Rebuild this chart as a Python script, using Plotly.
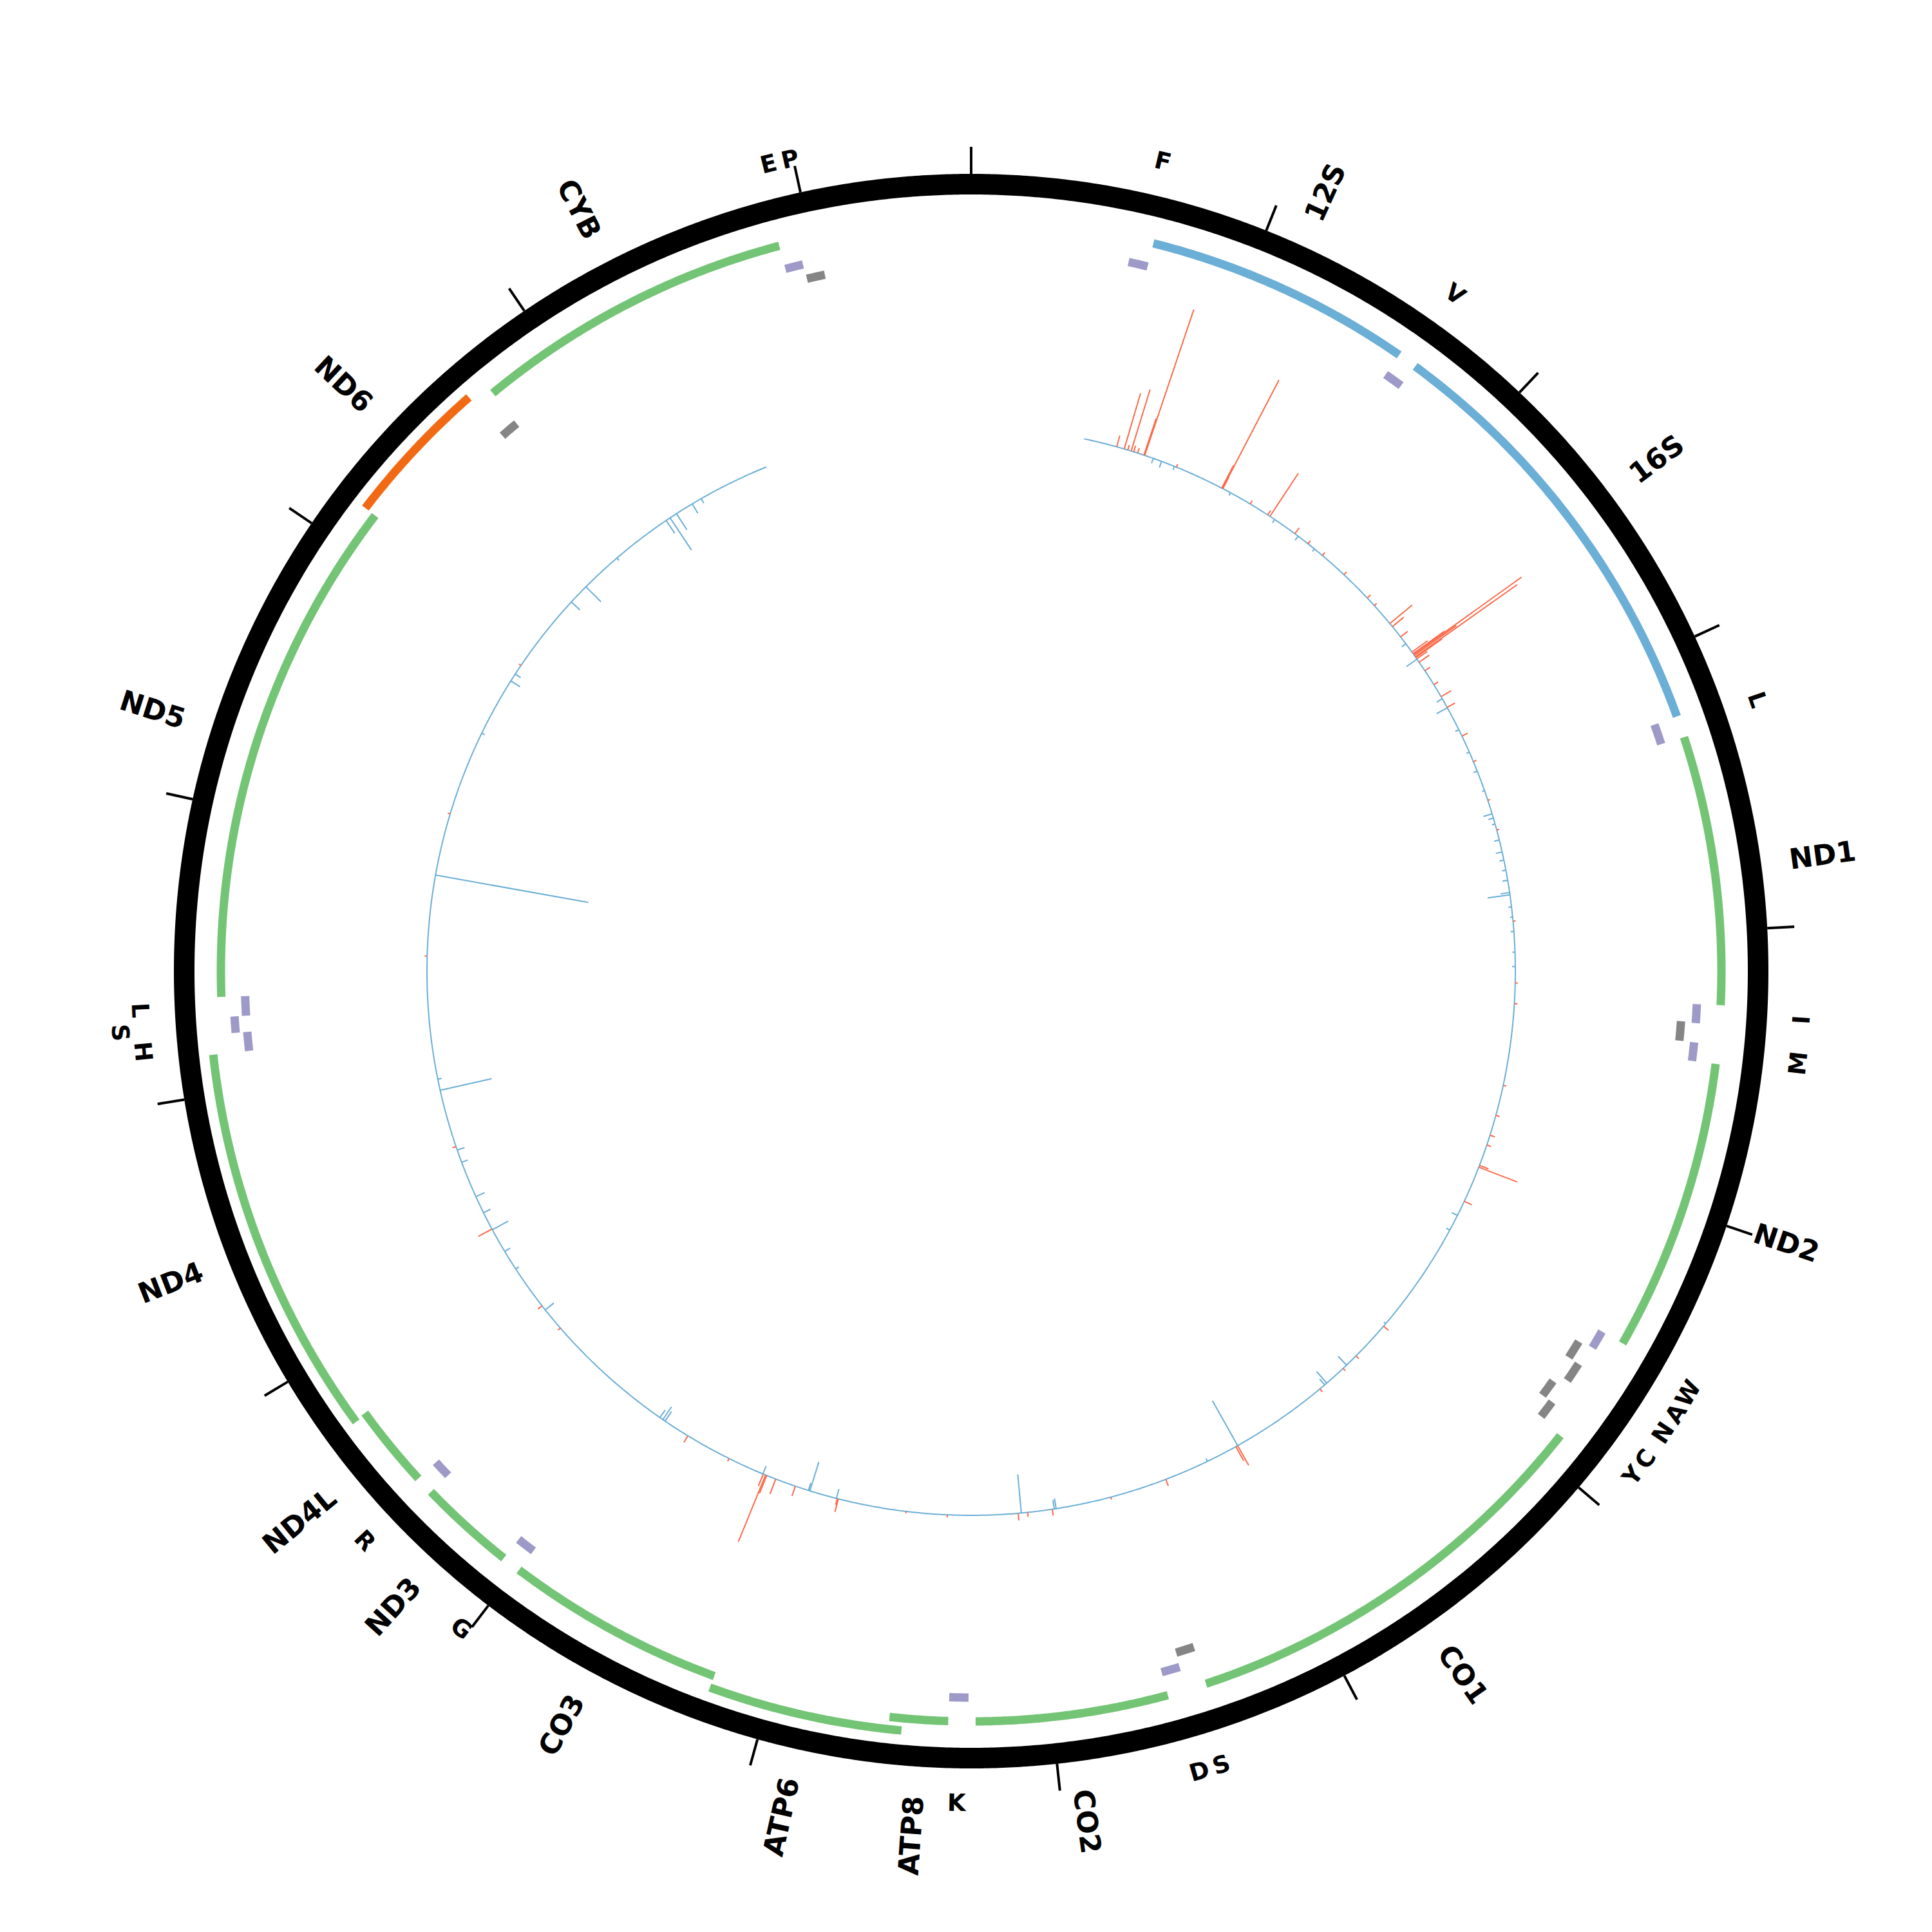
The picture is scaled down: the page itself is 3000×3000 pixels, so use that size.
import numpy as np
import plotly.graph_objects as go

GENOME_LEN = 16569

# ---------------- data ----------------
gene_names = ["12S", "16S", "ND1", "ND2", "CO1", "CO2", "ATP8", "ATP6", "CO3",
              "ND3", "ND4L", "ND4", "ND5", "ND6", "CYB"]
gene_starts = [648, 1671, 3307, 4470, 5904, 7586, 8366, 8527, 9207,
               10059, 10470, 10760, 12337, 14149, 14747]
gene_ends = [1601, 3229, 4262, 5511, 7445, 8269, 8572, 9207, 9990,
             10404, 10766, 12137, 14148, 14673, 15887]
gene_strands = ["+", "+", "+", "+", "+", "+", "+", "+", "+",
                "+", "+", "+", "+", "-", "+"]
gene_types = ["rRNA", "rRNA", "protein", "protein", "protein", "protein", "protein", "protein",
              "protein", "protein", "protein", "protein", "protein", "protein", "protein"]

trna_starts = [577, 1602, 3230, 4263, 4329, 4402, 5512, 5587, 5657, 5761, 5826, 7446, 7518,
               8295, 9991, 10405, 12138, 12207, 12266, 14674, 15888, 15956]
trna_ends = [647, 1670, 3304, 4331, 4400, 4469, 5579, 5655, 5729, 5826, 5891, 7514, 7585,
             8364, 10058, 10469, 12206, 12265, 12336, 14742, 15953, 16023]
trna_strands = ["+", "+", "+", "+", "-", "+", "+", "-", "-", "-", "-", "-", "+",
                "+", "+", "+", "+", "+", "+", "-", "+", "-"]
trna_labels = ["F", "V", "L", "I", "", "M", "W", "A", "N", "C", "Y", "S", "D",
               "K", "G", "R", "H", "S", "L", "", "E", "P"]

tick_positions = [0, 1000, 2000, 3000, 4000, 5000, 6000, 7000, 8000, 9000, 10000,
                  11000, 12000, 13000, 14000, 15000, 16000]

track_start = 552
track_end = 15552

gain_pos = [714, 752, 770, 787, 800, 820, 852, 856, 1020, 1262, 1264, 1266, 1268, 1420, 1520,
            1533, 1680, 1760, 1850, 1990, 2150, 2200, 2315, 2334, 2398, 2490, 2500, 2504,
            2510, 2518, 2522, 2530, 2550, 2600, 2680, 2748, 2808, 2964, 3100, 3300, 3450,
            3900, 4200, 4300, 4700, 4850, 4950, 5000, 5105, 5114, 5294, 6016, 6213, 6300,
            6450, 6935, 6945, 7320, 7600, 7890, 8010, 8056, 8400, 8600, 8935, 8940, 9152,
            9253, 9300, 9306, 9318, 9500, 9728, 10540, 10680, 11125, 11561, 12500, 13200,
            14000]
gain_val = [1.8, 9.0, 0.8, 10.0, 1.0, 0.8, 6.0, 23.9, 0.5, 4.0, 3.0, 19.0, 2.0, 0.6, 0.8,
            8.0, 1.1, 0.6, 0.6, 0.6, 0.7, 0.5, 4.5, 2.3, 1.4, 3.0, 6.0, 20.6,
            8.0, 19.4, 5.0, 2.0, 1.9, 1.0, 0.8, 1.8, 1.4, 1.0, 0.5, 0.4, 0.4,
            0.4, 0.4, 0.5, 0.5, 0.6, 0.8, 0.7, 1.5, 6.4, 1.3, 1.0, 0.6, 0.5,
            0.6, 3.5, 2.5, 1.1, 0.4, 1.0, 0.7, 1.1, 0.4, 0.3, 2.1, 1.0, 1.6,
            2.5, 3.0, 11.2, 2.0, 0.5, 1.2, 0.5, 0.8, 2.4, 0.6, 0.4, 0.4,
            0.4]

loss_pos = [900, 943, 1010, 1310, 1560, 1700, 1800, 2440, 2532, 2760, 2810, 2930, 3050,
            3150, 3250, 3369, 3390, 3420, 3500, 3560, 3600, 3650, 3700, 3760, 3771, 3830,
            3880, 3950, 4050, 4120, 5370, 5450, 6000, 6277, 6407, 6420, 6935, 7100, 7871,
            7880, 8041, 8944, 9078, 9085, 9320, 9860, 9873, 9890, 10655, 10900, 11000,
            11121, 11214, 11300, 11480, 11543, 11845, 11900, 12895, 13620, 13910, 13950,
            14393, 14495, 14700, 15000, 15023, 15060, 15150, 15200]
loss_val = [0.8, 1.0, 0.6, 0.5, 0.6, 0.8, 0.5, 0.8, 2.0, 1.0, 1.9, 0.6, 0.5,
            0.6, 0.4, 1.4, 0.8, 0.5, 0.8, 1.0, 0.7, 0.6, 0.8, 1.4, 3.5, 0.5,
            0.4, 0.5, 0.4, 0.5, 1.0, 0.6, 0.4, 1.9, 2.4, 1.2, 8.0, 0.5, 1.6,
            1.4, 6.0, 1.5, 4.7, 1.2, 1.3, 1.8, 2.4, 1.4, 1.7, 0.6, 1.0,
            2.8, 1.2, 1.5, 1.0, 1.2, 8.2, 0.6, 24.1, 0.5, 1.7, 1.0,
            1.8, 3.3, 0.5, 2.4, 6.0, 3.0, 1.7, 0.8]

# ---------------- styling / geometry ----------------
RING_R, RING_W = 1222, 32
TICK_R0, TICK_R1 = 1238, 1280
GENE_R, GENE_H, GENE_STEP = 1165, 13, 19
TRNA_FWD_R, TRNA_REV_R, TRNA_H, TRNA_STEP = 1128, 1105, 13, 18
TRACK_R = 845
SPIKE_SCALE = 10.0
GENE_LABEL_R0 = 1282
TRNA_LABEL_R, TRNA_LABEL_STEP = 1292, 33
GENE_FONT, TRNA_FONT = 44, 37
FONT = "DejaVu Sans"

C_GREEN = "#74c476"
C_BLUE = "#6baed6"
C_ORANGE = "#f16913"
C_PURPLE = "#9e9ac8"
C_GREY = "#858585"
C_RED = "#fb6a4a"

CHAR_W = {"A": 0.774, "B": 0.762, "C": 0.734, "D": 0.830, "L": 0.637, "N": 0.837,
          "O": 0.850, "P": 0.733, "S": 0.720, "T": 0.682, "Y": 0.724}


def ang(bp):
    return np.asarray(bp, dtype=float) / GENOME_LEN * 360.0


def pxy(bp, r):
    th = np.deg2rad(ang(bp))
    return r * np.sin(th), r * np.cos(th)


def assign_lanes(starts, ends, gap=2):
    lane_end = {}
    lanes = []
    for s, e in zip(starts, ends):
        lane = 0
        while lane in lane_end and s <= lane_end[lane] + gap:
            lane += 1
        lane_end[lane] = e
        lanes.append(lane)
    return lanes


def arc_polys(segs):
    xs, ys = [], []
    for s, e, r, h in segs:
        n = max(8, int((e - s) / 10))
        b = np.linspace(s - 1, e, n)
        xo, yo = pxy(b, r + h / 2)
        xi, yi = pxy(b[::-1], r - h / 2)
        xs += list(xo) + list(xi) + [xo[0], None]
        ys += list(yo) + list(yi) + [yo[0], None]
    return xs, ys


fig = go.Figure()

# outer ring
b = np.linspace(0, GENOME_LEN, 1441)
x, y = pxy(b, RING_R)
fig.add_trace(go.Scatter(x=x, y=y, mode="lines",
                         line=dict(color="black", width=RING_W, simplify=False),
                         hoverinfo="skip"))

# ticks
tx, ty = [], []
for t in tick_positions:
    x0, y0 = pxy(t, TICK_R0)
    x1, y1 = pxy(t, TICK_R1)
    tx += [float(x0), float(x1), None]
    ty += [float(y0), float(y1), None]
fig.add_trace(go.Scatter(x=tx, y=ty, mode="lines",
                         line=dict(color="black", width=4, simplify=False),
                         hoverinfo="skip"))

# genes
gene_lanes = assign_lanes(gene_starts, gene_ends)
groups = {C_GREEN: [], C_BLUE: [], C_ORANGE: []}
for s, e, st, tp, ln in zip(gene_starts, gene_ends, gene_strands, gene_types, gene_lanes):
    col = C_BLUE if tp == "rRNA" else (C_GREEN if st == "+" else C_ORANGE)
    groups[col].append((s, e, GENE_R + GENE_STEP * ln, GENE_H))
for col, segs in groups.items():
    if segs:
        xs, ys = arc_polys(segs)
        fig.add_trace(go.Scatter(x=xs, y=ys, mode="lines", fill="toself", fillcolor=col,
                                 line=dict(width=0, color=col, simplify=False),
                                 hoverinfo="skip"))

# tRNAs
fwd_idx = [i for i, s in enumerate(trna_strands) if s == "+"]
rev_idx = [i for i, s in enumerate(trna_strands) if s == "-"]
trna_lane = [0] * len(trna_starts)
label_lane = [0] * len(trna_starts)
for idx in (fwd_idx, rev_idx):
    ls = assign_lanes([trna_starts[i] for i in idx], [trna_ends[i] for i in idx])
    for i, l in zip(idx, ls):
        trna_lane[i] = l
    # a label squeezed between two directly adjacent neighbours is pushed outward
    for k in range(1, len(idx) - 1):
        a, i, c = idx[k - 1], idx[k], idx[k + 1]
        if trna_starts[i] <= trna_ends[a] + 1 and trna_starts[c] <= trna_ends[i] + 1:
            label_lane[i] = 1
fsegs, rsegs = [], []
for i in range(len(trna_starts)):
    if trna_strands[i] == "+":
        fsegs.append((trna_starts[i], trna_ends[i], TRNA_FWD_R + TRNA_STEP * trna_lane[i], TRNA_H))
    else:
        rsegs.append((trna_starts[i], trna_ends[i], TRNA_REV_R + TRNA_STEP * trna_lane[i], TRNA_H))
for col, segs in ((C_PURPLE, fsegs), (C_GREY, rsegs)):
    xs, ys = arc_polys(segs)
    fig.add_trace(go.Scatter(x=xs, y=ys, mode="lines", fill="toself", fillcolor=col,
                             line=dict(width=0, color=col, simplify=False),
                             hoverinfo="skip"))

# inner track base line
b = np.linspace(track_start, track_end, 1500)
x, y = pxy(b, TRACK_R)
fig.add_trace(go.Scatter(x=x, y=y, mode="lines",
                         line=dict(color=C_BLUE, width=2, simplify=False),
                         hoverinfo="skip"))


def spikes(pos, val, sign):
    xs, ys = [], []
    for p, v in zip(pos, val):
        x0, y0 = pxy(p, TRACK_R)
        x1, y1 = pxy(p, TRACK_R + sign * v * SPIKE_SCALE)
        xs += [float(x0), float(x1), None]
        ys += [float(y0), float(y1), None]
    return xs, ys


xs, ys = spikes(loss_pos, loss_val, -1)
fig.add_trace(go.Scatter(x=xs, y=ys, mode="lines",
                         line=dict(color=C_BLUE, width=2, simplify=False),
                         hoverinfo="skip"))
xs, ys = spikes(gain_pos, gain_val, 1)
fig.add_trace(go.Scatter(x=xs, y=ys, mode="lines",
                         line=dict(color=C_RED, width=2, simplify=False),
                         hoverinfo="skip"))

# labels
annotations = []
for name, s, e in zip(gene_names, gene_starts, gene_ends):
    mid = (s + e) / 2
    th = float(ang(mid))
    w = sum(CHAR_W.get(c, 0.696) for c in name) * GENE_FONT
    r = GENE_LABEL_R0 + w / 2
    x, y = pxy(mid, r)
    rot = th - 90 if th < 180 else th - 270
    annotations.append(dict(x=float(x), y=float(y), text="<b>%s</b>" % name, showarrow=False,
                            xanchor="center", yanchor="middle", textangle=rot,
                            font=dict(family=FONT, size=GENE_FONT, color="black")))
for lab, s, e, ln in zip(trna_labels, trna_starts, trna_ends, label_lane):
    if not lab:
        continue
    mid = (s + e) / 2
    th = float(ang(mid))
    r = TRNA_LABEL_R + TRNA_LABEL_STEP * ln
    x, y = pxy(mid, r)
    if 90 <= th < 270:
        rot = th - 180
    else:
        rot = th if th < 90 else th - 360
    annotations.append(dict(x=float(x), y=float(y), text="<b>%s</b>" % lab, showarrow=False,
                            xanchor="center", yanchor="middle", textangle=rot,
                            font=dict(family=FONT, size=TRNA_FONT, color="black")))

fig.update_layout(
    width=3000, height=3000,
    margin=dict(l=0, r=0, t=0, b=0),
    paper_bgcolor="white", plot_bgcolor="white",
    showlegend=False,
    xaxis=dict(range=[-1500, 1500], visible=False, fixedrange=True),
    yaxis=dict(range=[-1500, 1500], visible=False, fixedrange=True),
    annotations=annotations,
)

fig.write_html("out.html")
